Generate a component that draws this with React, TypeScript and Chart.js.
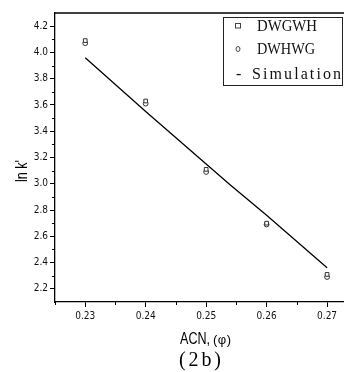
import { useEffect, useRef } from 'react';
import { Chart, registerables } from 'chart.js';

Chart.register(...registerables);

// ---- data ----
const xValues = [0.23, 0.24, 0.25, 0.26, 0.27];
const dwgwhValues = [4.09, 3.63, 3.11, 2.7, 2.31];
const dwhwgValues = [4.07, 3.61, 3.09, 2.69, 2.29];
const simX = [0.23, 0.24, 0.25, 0.254, 0.26, 0.27];
const simY = [3.96, 3.55, 3.15, 2.99, 2.76, 2.36];
const xTickValues = [0.23, 0.24, 0.25, 0.26, 0.27];
const xTickLabels = ['0.23', '0.24', '0.25', '0.26', '0.27'];
const xMinorTicks = [0.225, 0.235, 0.245, 0.255, 0.265];
const yTickValues = [2.2, 2.4, 2.6, 2.8, 3.0, 3.2, 3.4, 3.6, 3.8, 4.0, 4.2];
const yTickLabels = ['2.2', '2.4', '2.6', '2.8', '3.0', '3.2', '3.4', '3.6', '3.8', '4.0', '4.2'];
const yMinorTicks = [2.3, 2.5, 2.7, 2.9, 3.1, 3.3, 3.5, 3.7, 3.9, 4.1];
const seriesNames = ['DWGWH', 'DWHWG', 'Simulation'];
const yTitle = "ln k'";
const xTitleMain = 'ACN,';
const xTitleUnit = '(\u03c6)';
const caption = '(2b)';

const X_MIN = 0.225;
const X_MAX = 0.2728;
const Y_MIN = 2.1;
const Y_MAX = 4.3;

const NARROW = '"Liberation Sans Narrow", "DejaVu Sans Condensed", Arial, sans-serif';
const SANS = '"Liberation Sans", Arial, sans-serif';
const SERIF = '"Liberation Serif", "Times New Roman", serif';

function labelFor(values: number[], labels: string[], v: number) {
  const i = values.findIndex((t) => Math.abs(t - v) < 1e-6);
  return i >= 0 ? labels[i] : '';
}

function drawSpaced(ctx: CanvasRenderingContext2D, text: string, x: number, y: number, target: number) {
  const natural = ctx.measureText(text).width;
  if (target > natural && text.length > 1) {
    const sp = (target - natural) / (text.length - 1);
    let cx = x;
    for (const ch of text) {
      ctx.fillText(ch, cx, y);
      cx += ctx.measureText(ch).width + sp;
    }
  } else {
    const s = target / natural;
    ctx.save();
    ctx.translate(x, y);
    ctx.scale(s, 1);
    ctx.fillText(text, 0, 0);
    ctx.restore();
  }
}

const decorPlugin = {
  id: 'decor',
  afterDraw(chart: any) {
    const ctx: CanvasRenderingContext2D = chart.ctx;
    const { left, top, bottom } = chart.chartArea;
    const xs = chart.scales.x;
    const ys = chart.scales.y;
    ctx.save();
    ctx.strokeStyle = '#000';
    ctx.lineWidth = 1;
    // minor ticks
    ctx.beginPath();
    for (const v of xMinorTicks) {
      const px = Math.round(xs.getPixelForValue(v)) + 0.5;
      ctx.moveTo(px, bottom);
      ctx.lineTo(px, bottom + 3);
    }
    for (const v of yMinorTicks) {
      const py = Math.round(ys.getPixelForValue(v)) + 0.5;
      ctx.moveTo(left, py);
      ctx.lineTo(left - 3, py);
    }
    ctx.stroke();
    // top frame line
    ctx.lineWidth = 1.3;
    ctx.beginPath();
    ctx.moveTo(left, top);
    ctx.lineTo(chart.width, top);
    ctx.stroke();

    // legend
    ctx.lineWidth = 1;
    ctx.strokeStyle = '#222';
    ctx.strokeRect(223.5, 17.5, 119, 68);
    ctx.strokeStyle = '#444';
    ctx.strokeRect(235.5, 23.5, 5, 4.5);
    ctx.beginPath();
    ctx.ellipse(238, 49, 2, 2.5, 0, 0, Math.PI * 2);
    ctx.stroke();
    ctx.fillStyle = '#111';
    ctx.font = `16px ${SERIF}`;
    ctx.textBaseline = 'alphabetic';
    ctx.textAlign = 'left';
    drawSpaced(ctx, seriesNames[0], 257, 31, 60);
    drawSpaced(ctx, seriesNames[1], 257, 54, 58);
    ctx.fillText('-', 236, 79);
    drawSpaced(ctx, seriesNames[2], 252, 79, 89);

    // y title
    ctx.save();
    ctx.translate(27, 171);
    ctx.rotate(-Math.PI / 2);
    ctx.font = `17px ${SANS}`;
    ctx.textAlign = 'left';
    ctx.textBaseline = 'alphabetic';
    ctx.fillStyle = '#000';
    drawSpaced(ctx, yTitle, -11, 0, 22);
    ctx.restore();

    // x title
    ctx.fillStyle = '#000';
    ctx.textAlign = 'left';
    ctx.font = `16px ${SANS}`;
    drawSpaced(ctx, xTitleMain, 180, 344, 30);
    ctx.font = `13px ${SANS}`;
    drawSpaced(ctx, xTitleUnit, 213, 344, 18);

    // caption
    ctx.font = `20px ${SERIF}`;
    drawSpaced(ctx, caption, 179, 366, 42);
    ctx.restore();
  },
};

export default function App() {
  const ref = useRef<HTMLCanvasElement | null>(null);
  useEffect(() => {
    if (!ref.current) return;
    const chart = new Chart(ref.current, {
      type: 'scatter',
      data: {
        datasets: [
          {
            label: seriesNames[0],
            data: xValues.map((x, i) => ({ x, y: dwgwhValues[i] })),
            pointStyle: 'rect',
            pointRadius: 2.6,
            borderWidth: 1,
            borderColor: '#333',
            backgroundColor: '#fff',
            showLine: false,
          },
          {
            label: seriesNames[1],
            data: xValues.map((x, i) => ({ x, y: dwhwgValues[i] })),
            pointStyle: 'circle',
            pointRadius: 2.4,
            borderWidth: 1,
            borderColor: '#333',
            backgroundColor: 'rgba(255,255,255,0)',
            showLine: false,
          },
          {
            label: seriesNames[2],
            data: simX.map((x, i) => ({ x, y: simY[i] })),
            showLine: true,
            pointRadius: 0,
            borderColor: '#000',
            borderWidth: 1.3,
            fill: false,
            tension: 0,
          },
        ],
      },
      options: {
        animation: false,
        responsive: false,
        maintainAspectRatio: false,
        layout: { autoPadding: false, padding: { top: 13, right: 0, left: 0, bottom: 0 } },
        plugins: { legend: { display: false }, tooltip: { enabled: false }, title: { display: false } },
        scales: {
          x: {
            type: 'linear',
            min: X_MIN,
            max: X_MAX,
            afterBuildTicks: (s: any) => {
              s.ticks = xTickValues.map((v) => ({ value: v }));
            },
            afterFit: (s: any) => {
              s.height = 70;
              s.paddingRight = 0;
              s.paddingLeft = 0;
            },
            ticks: {
              autoSkip: false,
              maxRotation: 0,
              minRotation: 0,
              padding: 3,
              color: '#111',
              font: { family: NARROW, size: 10 },
              callback: (v: any) => labelFor(xTickValues, xTickLabels, Number(v)),
            },
            grid: { drawOnChartArea: false, drawTicks: true, tickLength: 5, tickColor: '#000', tickWidth: 1 },
            border: { display: true, color: '#000', width: 1.3 },
          },
          y: {
            type: 'linear',
            min: Y_MIN,
            max: Y_MAX,
            afterBuildTicks: (s: any) => {
              s.ticks = yTickValues.map((v) => ({ value: v }));
            },
            afterFit: (s: any) => {
              s.width = 55;
              s.paddingTop = 0;
              s.paddingBottom = 0;
            },
            ticks: {
              autoSkip: false,
              padding: 2,
              color: '#111',
              font: { family: NARROW, size: 10 },
              callback: (v: any) => labelFor(yTickValues, yTickLabels, Number(v)),
            },
            grid: { drawOnChartArea: false, drawTicks: true, tickLength: 5, tickColor: '#000', tickWidth: 1 },
            border: { display: true, color: '#000', width: 1.3 },
          },
        },
      },
      plugins: [decorPlugin],
    } as any);
    return () => chart.destroy();
  }, []);
  return (
    <div style={{ position: 'fixed', left: 0, top: 0, width: 344, height: 372, background: '#fff' }}>
      <canvas ref={ref} width={344} height={372} style={{ display: 'block', width: 344, height: 372 }} />
    </div>
  );
}
